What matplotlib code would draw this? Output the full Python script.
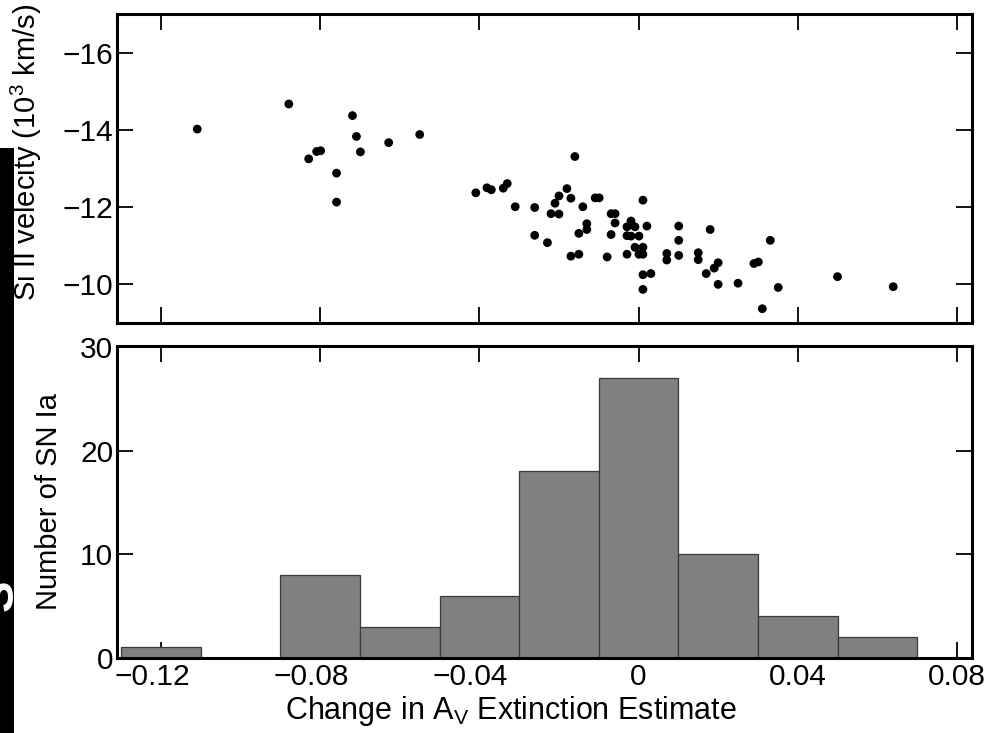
import numpy as np
import matplotlib
matplotlib.use("Agg")
import matplotlib.pyplot as plt
from matplotlib.patches import Rectangle
from matplotlib.transforms import ScaledTranslation

plt.rcParams['font.family'] = ['Liberation Sans', 'DejaVu Sans']
plt.rcParams['mathtext.fontset'] = 'custom'
plt.rcParams['mathtext.rm'] = 'Liberation Sans'
plt.rcParams['mathtext.it'] = 'Liberation Sans:italic'

# ---- scatter data: change in A_V vs Si II velocity (10^3 km/s)
dAv = [-0.1109, -0.0879, -0.0829, -0.0809, -0.0799, -0.0759, -0.0759, -0.0719,
       -0.0709, -0.0699, -0.0628, -0.0550, -0.0409, -0.0381, -0.0370, -0.0340,
       -0.0330, -0.0310, -0.0261, -0.0261, -0.0229, -0.0220, -0.0210, -0.0200,
       -0.0200, -0.0180, -0.0170, -0.0170, -0.0160, -0.0150, -0.0150, -0.0140,
       -0.0130, -0.0130, -0.0109, -0.0099, -0.0079, -0.0069, -0.0059, -0.0069,
       -0.0059, -0.0029, -0.0019, -0.0009, -0.0029, -0.0019, 0.0001, -0.0009,
       -0.0029, 0.0001, 0.0011, 0.0011, 0.0011, 0.0021, 0.0011, 0.0031,
       0.0011, 0.0071, 0.0071, 0.0101, 0.0101, 0.0101, 0.0150, 0.0150,
       0.0170, 0.0180, 0.0190, 0.0200, 0.0200, 0.0250, 0.0290, 0.0301,
       0.0311, 0.0331, 0.0351, 0.0500, 0.0640]
vSi = [-14.02, -14.67, -13.25, -13.44, -13.46, -12.88, -12.13, -14.37,
       -13.83, -13.43, -13.67, -13.88, -12.37, -12.50, -12.45, -12.49,
       -12.61, -12.01, -11.99, -11.27, -11.08, -11.83, -12.10, -12.29,
       -11.82, -12.48, -12.23, -10.73, -13.31, -11.32, -10.78, -12.01,
       -11.57, -11.42, -12.24, -12.24, -10.71, -11.83, -11.83, -11.29,
       -11.59, -11.49, -11.64, -11.49, -11.26, -11.25, -11.25, -10.96,
       -10.78, -10.78, -10.96, -10.78, -12.18, -11.51, -10.25, -10.28,
       -9.87, -10.80, -10.63, -11.51, -11.14, -10.75, -10.82, -10.64,
       -10.28, -11.42, -10.42, -10.56, -10.00, -10.03, -10.54, -10.58,
       -9.37, -11.14, -9.92, -10.20, -9.94]

# ---- histogram data
bin_left = [-0.13, -0.11, -0.09, -0.07, -0.05, -0.03, -0.01, 0.01, 0.03, 0.05]
bin_count = [1, 0, 8, 3, 6, 18, 27, 10, 4, 2]
bin_width = 0.02

xticks = [-0.12, -0.08, -0.04, 0, 0.04, 0.08]
xticklabels = ['\u22120.12', '\u22120.08', '\u22120.04', '0', '0.04', '0.08']
vticks = [-16, -14, -12, -10]
vticklabels = ['\u221216', '\u221214', '\u221212', '\u221210']
nticks = [0, 10, 20, 30]

W, H = 988, 733
fig = plt.figure(figsize=(W / 100, H / 100), dpi=100)

# black strip on the left edge with a partial white glyph
strip = Rectangle((0, 0), 14 / W, 1 - 148 / H, transform=fig.transFigure,
                  facecolor='black', edgecolor='none', zorder=0)
fig.patches.append(strip)
g = fig.text(1 / W, 1 - 595 / H, 'S', color='white', fontsize=34,
             fontweight='bold', rotation=90, ha='center', va='center', zorder=1)
g.set_clip_path(strip)

L, R = 117.3 / W, 972 / W
ax1 = fig.add_axes([L, 1 - 323 / H, R - L, (323 - 14) / H])
ax2 = fig.add_axes([L, 1 - 657.7 / H, R - L, (657.7 - 346) / H])

xlim = (-0.131, 0.0838)
TICK_FS = 21.5
LAB_FS = 21

for ax in (ax1, ax2):
    for s in ax.spines.values():
        s.set_linewidth(2.2)
    ax.tick_params(direction='in', length=11.5, width=1.3, top=True, right=True,
                   labelsize=TICK_FS, colors='black')
    ax.tick_params(axis='y', pad=3)
    ax.tick_params(axis='x', pad=4)
    ax.set_xlim(*xlim)
    ax.set_xticks(xticks)

ax1.scatter(dAv, vSi, s=40, color='black', edgecolors='none', zorder=3)
ax1.set_ylim(-9.0, -17.0)
ax1.set_yticks(vticks)
ax1.set_yticklabels(vticklabels)
ax1.set_xticklabels([])
ax1.set_ylabel('Si II velecity (10$^3$ km/s)', fontsize=LAB_FS)
ax1.yaxis.set_label_coords(-0.086, 0.553)

ax2.bar(bin_left, bin_count, width=bin_width, align='edge',
        facecolor='#808080', edgecolor='#3a3a3a', linewidth=0.9, zorder=2)
ax2.set_ylim(0, 30.1)
ax2.set_yticks(nticks)
ax2.set_xticklabels(xticklabels)
# negative labels are centred on the number, not on the minus sign
for lab, val in zip(ax2.get_xticklabels(), xticks):
    if val < 0:
        lab.set_transform(lab.get_transform() +
                          ScaledTranslation(-9 / 100, 0, fig.dpi_scale_trans))
ax2.set_ylabel('Number of SN Ia', fontsize=LAB_FS)
ax2.yaxis.set_label_coords(-0.063, 0.5)
ax2.set_xlabel('Change in A$_\\mathrm{V}$ Extinction Estimate', fontsize=22, labelpad=0)
ax2.xaxis.set_label_coords(0.46, -0.118)

fig.savefig('out.png', dpi=100)
